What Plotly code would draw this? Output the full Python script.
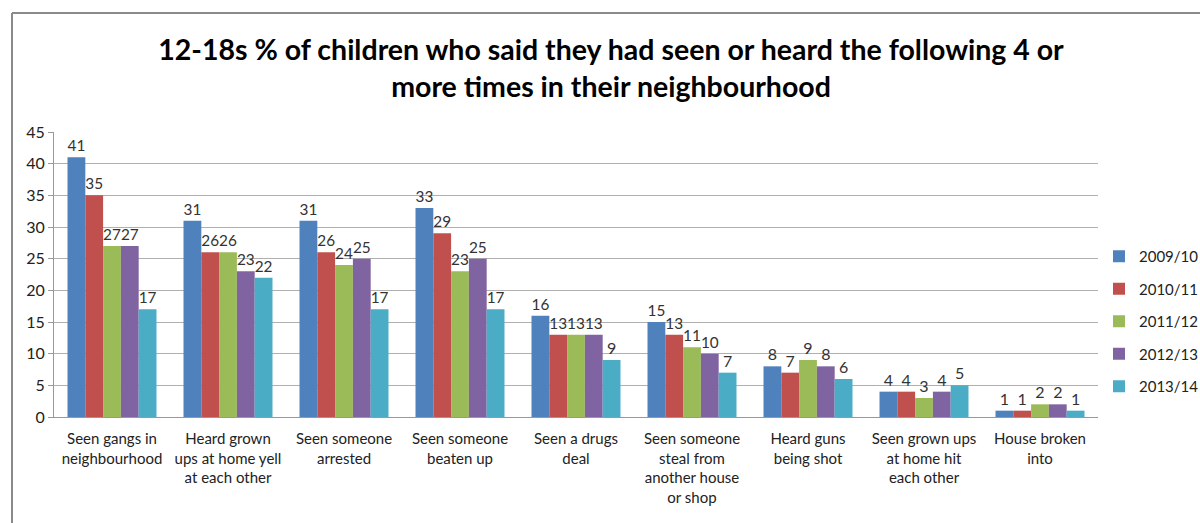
import plotly.graph_objects as go

categories = [
    "Seen gangs in<br>neighbourhood",
    "Heard grown<br>ups at home yell<br>at each other",
    "Seen someone<br>arrested",
    "Seen someone<br>beaten up",
    "Seen a drugs<br>deal",
    "Seen someone<br>steal from<br>another house<br>or shop",
    "Heard guns<br>being shot",
    "Seen grown ups<br>at home hit<br>each other",
    "House broken<br>into",
]
series_names = ["2009/10", "2010/11", "2011/12", "2012/13", "2013/14"]
v2009 = [41, 31, 31, 33, 16, 15, 8, 4, 1]
v2010 = [35, 26, 26, 29, 13, 13, 7, 4, 1]
v2011 = [27, 26, 24, 23, 13, 11, 9, 3, 2]
v2012 = [27, 23, 25, 25, 13, 10, 8, 4, 2]
v2013 = [17, 22, 17, 17, 9, 7, 6, 5, 1]
values = [v2009, v2010, v2011, v2012, v2013]
colors = ["#4F81BD", "#C0504D", "#9BBB59", "#8064A2", "#4BACC6"]

FONT = "Lato, Roboto, sans-serif"
W, H = 1200, 523
# plot area in screen pixels (page body margin removed below)
SL, SR, ST, SB = 54, 1098, 132, 417
ML, MR, MT, MB = SL, W - SR, ST, H - SB

fig = go.Figure()
for name, vals, col in zip(series_names, values, colors):
    fig.add_trace(go.Bar(
        x=categories, y=vals, name=name, marker_color=col, marker_line_width=0,
        text=[str(v) for v in vals], textposition="outside",
        textfont=dict(size=16, color="#333333", family=FONT),
        cliponaxis=False, legendgroup=name,
    ))

pw = SR - SL
ph = SB - ST
def px_x(p):
    return (p - SL) / pw
def px_y(p):
    return (SB - p) / ph

fig.update_layout(
    width=W, height=H,
    margin=dict(l=ML, r=MR, t=MT, b=MB, autoexpand=False),
    paper_bgcolor="white", plot_bgcolor="white",
    barmode="group", bargap=0.233, bargroupgap=0,
    font=dict(family=FONT, size=15, color="#222222"),
    title=dict(
        text="<b>12-18s % of children who said they had seen or heard the following 4 or<br>more times in their neighbourhood</b>",
        x=611 / W, xanchor="center", y=1 - 60 / H, yanchor="middle",
        font=dict(size=28.5, color="black", family=FONT),
    ),
    legend=dict(
        x=px_x(1099), xanchor="left", y=px_y(240), yanchor="top",
        font=dict(size=15, color="#222222"), tracegroupgap=10,
        itemwidth=30, bgcolor="rgba(0,0,0,0)",
    ),
    shapes=[
        dict(type="line", xref="paper", yref="paper",
             x0=px_x(12), x1=px_x(12), y0=px_y(530), y1=px_y(13),
             line=dict(color="#8a8a8a", width=2)),
        dict(type="line", xref="paper", yref="paper",
             x0=px_x(12), x1=px_x(1210), y0=px_y(13), y1=px_y(13),
             line=dict(color="#8a8a8a", width=2)),
    ],
)
fig.update_yaxes(
    range=[0, 45], dtick=5, showgrid=True, gridcolor="#b0b0b0", gridwidth=1,
    showline=True, linecolor="#999999", ticks="outside", ticklen=5, tickcolor="#999999",
    tickfont=dict(size=16, color="#222222"), zeroline=False,
)
fig.update_xaxes(
    showline=True, linecolor="#999999", ticks="", tickfont=dict(size=15, color="#222222"),
    tickangle=0, ticklabelstandoff=8,
)

fig.write_html("out.html", config={"displayModeBar": False},
               post_script="document.body.style.margin='0';")
